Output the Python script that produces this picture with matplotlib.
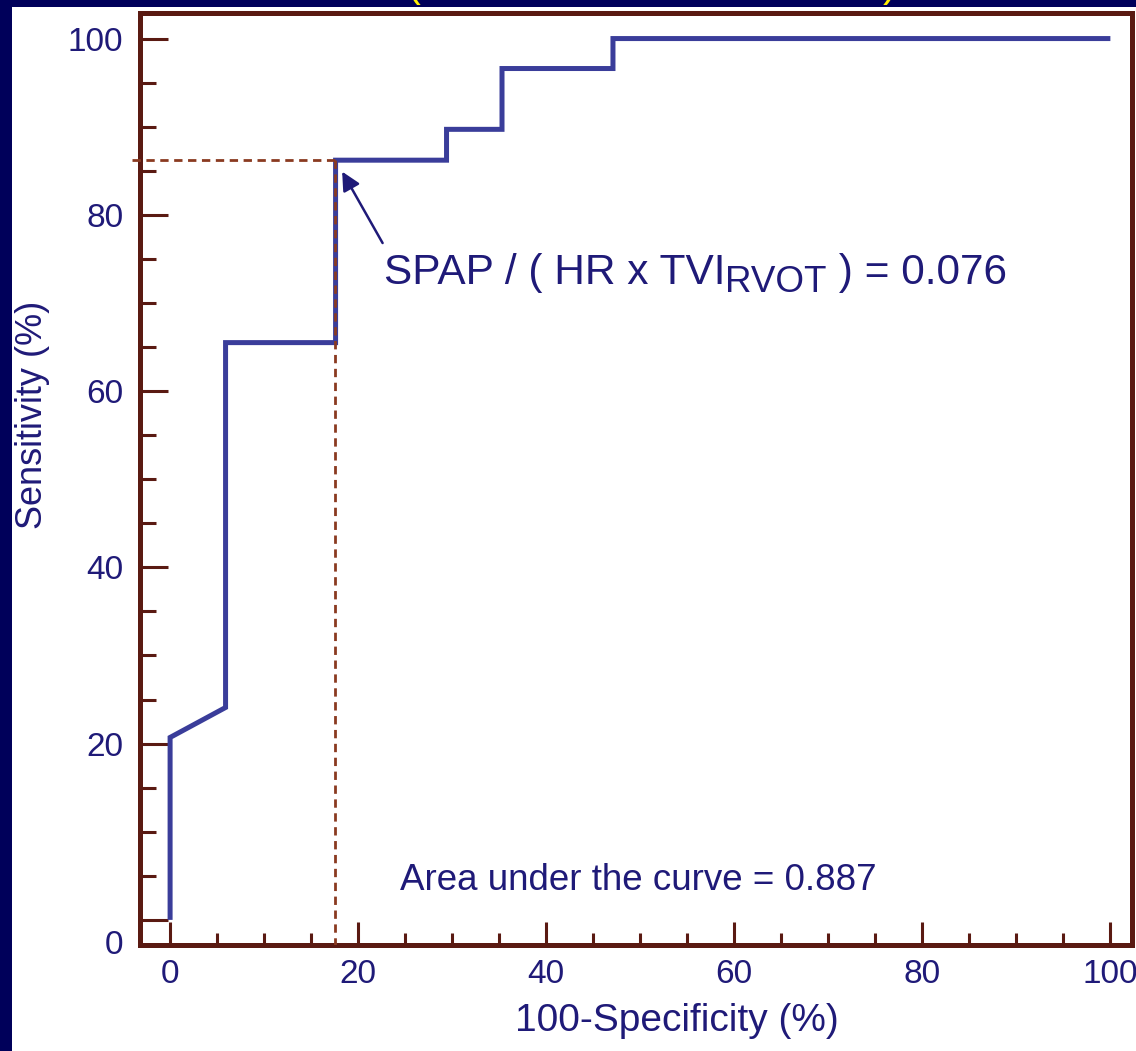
import matplotlib
matplotlib.use("Agg")
import matplotlib.pyplot as plt
from matplotlib.patches import Rectangle
from matplotlib.ticker import MultipleLocator

# ROC curve points (100-specificity %, sensitivity %)
fpr = [0.0, 0.0, 5.9, 5.9, 17.6, 17.6, 29.4, 29.4, 35.3, 35.3, 47.1, 47.1, 100.0]
tpr = [0.0, 20.7, 24.1, 65.5, 65.5, 86.2, 86.2, 89.7, 89.7, 96.6, 96.6, 100.0, 100.0]

# optimal cut-off point
cut_x = 17.6
cut_y = 86.2
cut_label = "0.076"
auc_label = "0.887"

xticks = [0, 20, 40, 60, 80, 100]
yticks = [0, 20, 40, 60, 80, 100]

NAVY_BG = "#00005a"
TEXT = "#1f1a78"
CURVE = "#3a3d9a"
SPINE = "#5a1a12"
DASH = "#8a3a20"

W, H = 1136, 1051
fig = plt.figure(figsize=(W / 100, H / 100), dpi=100, facecolor=NAVY_BG)
plt.rcParams["font.family"] = ["Liberation Sans", "DejaVu Sans"]

# white slide area inside the dark border
fig.patches.append(Rectangle((12 / W, 0), 1 - 12 / W, 1 - 7 / H,
                             transform=fig.transFigure, facecolor="white",
                             edgecolor="none", zorder=-10))

# bits of the yellow heading above the frame
fig.text(413 / W, 1 + 4 / H, "(", color="#ffee00", fontsize=30, va="baseline", ha="center")
fig.text(890 / W, 1 + 4 / H, ")", color="#ffee00", fontsize=30, va="baseline", ha="center")

ax = fig.add_axes([140 / W, 1 - 945 / H, (1132 - 140) / W, (945 - 13) / H])
ax.set_facecolor("white")

ax.plot(fpr, tpr, color=CURVE, lw=3.6, solid_joinstyle="miter", solid_capstyle="butt", zorder=3)

# dashed guides to the cut-off point
ax.plot([-4.0, cut_x], [cut_y, cut_y], color=DASH, lw=2.0, ls=(0, (3, 2)), clip_on=False, zorder=4)
ax.plot([cut_x - 0.1, cut_x - 0.1], [cut_y, -2.85], color=DASH, lw=2.0, ls=(0, (3, 2)), zorder=4)

ax.set_xlim(-3.2, 102.3)
ax.set_ylim(-2.85, 102.9)

ax.set_xticks(xticks)
ax.set_xticklabels([str(v) for v in xticks])
ax.set_yticks(yticks)
ax.set_yticklabels([""] + [str(v) for v in yticks[1:]])
ax.xaxis.set_minor_locator(MultipleLocator(5))
ax.yaxis.set_minor_locator(MultipleLocator(5))

ax.tick_params(axis="both", which="both", direction="in", color=SPINE, width=2.2,
               labelcolor=TEXT, labelsize=24)
ax.tick_params(axis="x", which="major", length=16.5, pad=10)
ax.tick_params(axis="x", which="minor", length=8.6)
ax.tick_params(axis="y", which="major", length=20, pad=12)
ax.tick_params(axis="y", which="minor", length=11.5)
for sp in ax.spines.values():
    sp.set_color(SPINE)
    sp.set_linewidth(3.6)

# the "0" on the y axis sits level with the bottom frame
ax.text(-5.0, -2.85, "0", ha="right", va="center", fontsize=24, color=TEXT, clip_on=False)

ax.set_xlabel("100-Specificity (%)", fontsize=28, color=TEXT)
ax.set_ylabel("Sensitivity (%)", fontsize=26, color=TEXT)
ax.xaxis.set_label_coords(0.541, -0.062)
ax.yaxis.set_label_coords(-0.091, 0.569)

# cut-off annotation with subscript
t1 = ax.text(22.7, 72.2, "SPAP / ( HR x TVI", fontsize=30.5, color=TEXT, va="baseline")
t2 = ax.annotate("RVOT", xy=(1, 0), xycoords=t1, xytext=(0, -5), textcoords="offset points",
                 fontsize=26.5, color=TEXT, va="bottom", ha="left")
ax.annotate(" ) = " + cut_label, xy=(1, 0), xycoords=t2, xytext=(0, 5), textcoords="offset points",
            fontsize=30.5, color=TEXT, va="bottom", ha="left")
ax.annotate("", xy=(cut_x + 0.7, cut_y - 1.3), xytext=(22.6, 76.8),
            arrowprops=dict(arrowstyle="-|>", color=TEXT, lw=1.8, mutation_scale=28,
                            shrinkA=0, shrinkB=0))

ax.text(24.5, 3.4, "Area under the curve = " + auc_label, fontsize=26.5, color=TEXT, va="baseline")

fig.savefig("out.png", dpi=100, facecolor=fig.get_facecolor())
